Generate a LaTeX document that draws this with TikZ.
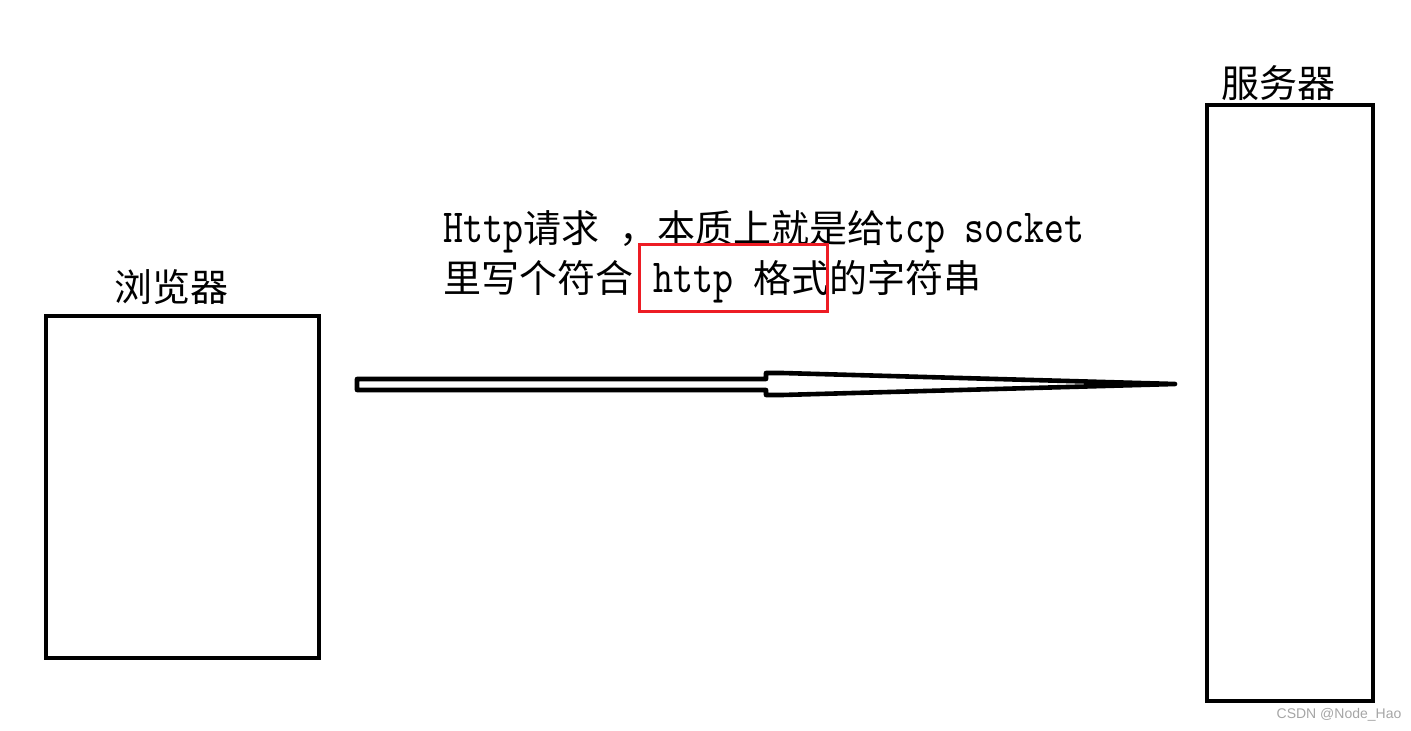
\documentclass[tikz,border=0pt]{standalone}
\usepackage{fontspec}
\setmainfont{Noto Sans CJK SC}
\newfontfamily\latinmono[Scale=1.25,FakeStretch=0.80]{lmmono10-regular.otf}
\newfontfamily\marksans{Liberation Sans}
\definecolor{markred}{RGB}{237,28,36}
\definecolor{markgray}{RGB}{165,165,165}
\tikzset{
  box/.style={draw, line width=2.3pt, inner sep=0pt},
  label text/.style={inner sep=0pt, font=\fontsize{19}{22}\selectfont},
}
\begin{document}
\begin{tikzpicture}[x=0.5pt,y=0.5pt,yscale=-1]
	\useasboundingbox (0,0) rectangle (1411,731);
	
	%Shape: Rectangle [browser]
	\node [box, minimum width=136.5pt, minimum height=171pt] (browser) at (182.5,487) {};
	%Shape: Rectangle [server]
	\node [box, minimum width=83pt, minimum height=298pt] (server) at (1290,403) {};
	
	% Text Node
	\node [label text] (browserlabel) at (171,287) {浏览器};
	% Text Node
	\node [label text] (serverlabel) at (1278,83) {服务器};
	
	%Shape: Arrow [request]
	\draw [line width=2.3pt, line join=round] (357,379) -- (766,379) -- (766,373) -- (782,373) -- (1175,384) -- (782,395) -- (766,395) -- (766,390) -- (357,390) -- cycle ;
	
	% Text Node
	\node [label text, anchor=base west] (line1) at (443,243) {{\latinmono Http}请求{\latinmono\ }，本质上就是给{\latinmono tcp socket}};
	% Text Node
	\node [label text, anchor=base west] (line2) at (443,293) {里写个符合{\latinmono\ http\ }格式的字符串};
	
	%Shape: Rectangle [highlight]
	\draw [markred, line width=1.8pt] (639.5,244.5) rectangle (827.5,311.5) ;
	
	% Text Node
	\node [inner sep=0pt, text=markgray, font=\marksans\fontsize{7}{8}\selectfont] (watermark) at (1339,715) {CSDN @Node\_Hao};
\end{tikzpicture}
\end{document}
